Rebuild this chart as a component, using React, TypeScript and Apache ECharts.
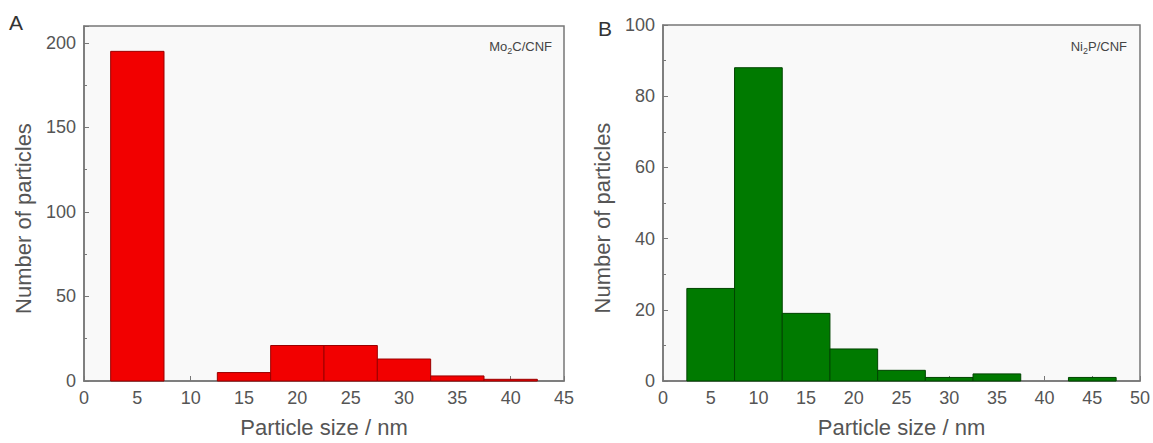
import React, { useEffect, useRef } from "react";
import * as echarts from "echarts";

// Panel A: Mo2C/CNF particle size histogram
const binCentersA = [5, 10, 15, 20, 25, 30, 35, 40];
const countsA = [195, 0, 5, 21, 21, 13, 3, 1];
// Panel B: Ni2P/CNF particle size histogram
const binCentersB = [5, 10, 15, 20, 25, 30, 35, 40, 45];
const countsB = [26, 88, 19, 9, 3, 1, 2, 0, 1];
const binWidth = 5;

const xTicksA = { min: 0, max: 45, interval: 5 };
const yTicksA = { min: 0, max: 210, interval: 50 };
const xTicksB = { min: 0, max: 50, interval: 5 };
const yTicksB = { min: 0, max: 100, interval: 20 };

const FONT = "Liberation Sans, Arial, sans-serif";
const TEXT = "#555";
const AXIS = "#777";

function toBins(centers: number[], counts: number[]) {
  return centers.map((c, i) => [c - binWidth / 2, c + binWidth / 2, counts[i]]);
}

function makeRender(fill: string, stroke: string) {
  return (params: any, api: any) => {
    const x0 = api.value(0);
    const x1 = api.value(1);
    const y = api.value(2);
    if (!y) return null;
    const p0 = api.coord([x0, y]);
    const p1 = api.coord([x1, 0]);
    return {
      type: "rect",
      shape: { x: p0[0], y: p0[1], width: p1[0] - p0[0], height: p1[1] - p0[1] },
      style: { fill, stroke, lineWidth: 1 },
    };
  };
}

function xAxis(gridIndex: number, t: any) {
  return {
    type: "value",
    gridIndex,
    min: t.min,
    max: t.max,
    interval: t.interval,
    name: "Particle size / nm",
    nameLocation: "middle",
    nameGap: 35,
    nameTextStyle: { fontFamily: FONT, fontSize: 22, color: TEXT },
    axisLine: { show: true, lineStyle: { color: AXIS, width: 1.5 } },
    axisTick: { show: true, inside: true, length: 5, lineStyle: { color: AXIS } },
    axisLabel: { fontFamily: FONT, fontSize: 18, color: TEXT, margin: 8 },
    splitLine: { show: false },
  };
}

function yAxis(gridIndex: number, t: any) {
  return {
    type: "value",
    gridIndex,
    min: t.min,
    max: t.max,
    interval: t.interval,
    name: "Number of particles",
    nameLocation: "middle",
    nameGap: 50,
    nameTextStyle: { fontFamily: FONT, fontSize: 22, color: TEXT, padding: [0, 30, 0, 0] },
    axisLine: { show: true, lineStyle: { color: AXIS, width: 1.5 } },
    axisTick: { show: true, inside: true, length: 5, lineStyle: { color: AXIS } },
    minorTick: { show: true, splitNumber: 2, length: 3, lineStyle: { color: AXIS } },
    axisLabel: {
      fontFamily: FONT,
      fontSize: 18,
      color: TEXT,
      margin: 8,
      formatter: (v: number) => (v % t.interval === 0 ? String(v) : ""),
    },
    splitLine: { show: false },
  };
}

export default function App() {
  const ref = useRef<HTMLDivElement>(null);
  useEffect(() => {
    if (!ref.current) return;
    const chart = echarts.init(ref.current, undefined, { renderer: "svg" });
    const gridCommon = {
      show: true,
      backgroundColor: "#f9f9f9",
      borderColor: AXIS,
      borderWidth: 1.5,
      containLabel: false,
    };
    chart.setOption({
      animation: false,
      backgroundColor: "#ffffff",
      grid: [
        { ...gridCommon, left: 84, top: 26, width: 480, height: 356 },
        { ...gridCommon, left: 663, top: 25, width: 480, height: 356 },
      ],
      xAxis: [xAxis(0, xTicksA), xAxis(1, xTicksB)],
      yAxis: [yAxis(0, yTicksA), yAxis(1, yTicksB)],
      series: [
        {
          type: "custom",
          xAxisIndex: 0,
          yAxisIndex: 0,
          data: toBins(binCentersA, countsA),
          encode: { x: [0, 1], y: 2 },
          renderItem: makeRender("#f20000", "#9a0000"),
        },
        {
          type: "custom",
          xAxisIndex: 1,
          yAxisIndex: 1,
          data: toBins(binCentersB, countsB),
          encode: { x: [0, 1], y: 2 },
          renderItem: makeRender("#007a00", "#004400"),
        },
      ],
      graphic: [
        {
          type: "text",
          left: 9,
          top: 12,
          style: { text: "A", fontFamily: FONT, fontSize: 21, fill: "#333" },
        },
        {
          type: "text",
          left: 598,
          top: 18,
          style: { text: "B", fontFamily: FONT, fontSize: 21, fill: "#333" },
        },
        {
          type: "text",
          right: 1153 - 552,
          top: 40,
          style: {
            text: "Mo{sub|2}C/CNF",
            fontFamily: FONT,
            fontSize: 13,
            fill: "#444",
            rich: { sub: { fontSize: 9, fill: "#444", verticalAlign: "bottom", padding: [8, 0, 0, 0] } },
          },
        },
        {
          type: "text",
          right: 1153 - 1127,
          top: 40,
          style: {
            text: "Ni{sub|2}P/CNF",
            fontFamily: FONT,
            fontSize: 13,
            fill: "#444",
            rich: { sub: { fontSize: 9, fill: "#444", verticalAlign: "bottom", padding: [8, 0, 0, 0] } },
          },
        },
      ],
    });
    return () => chart.dispose();
  }, []);
  return (
    <div
      ref={ref}
      style={{ position: "absolute", left: 0, top: 0, width: 1153, height: 443 }}
    />
  );
}
